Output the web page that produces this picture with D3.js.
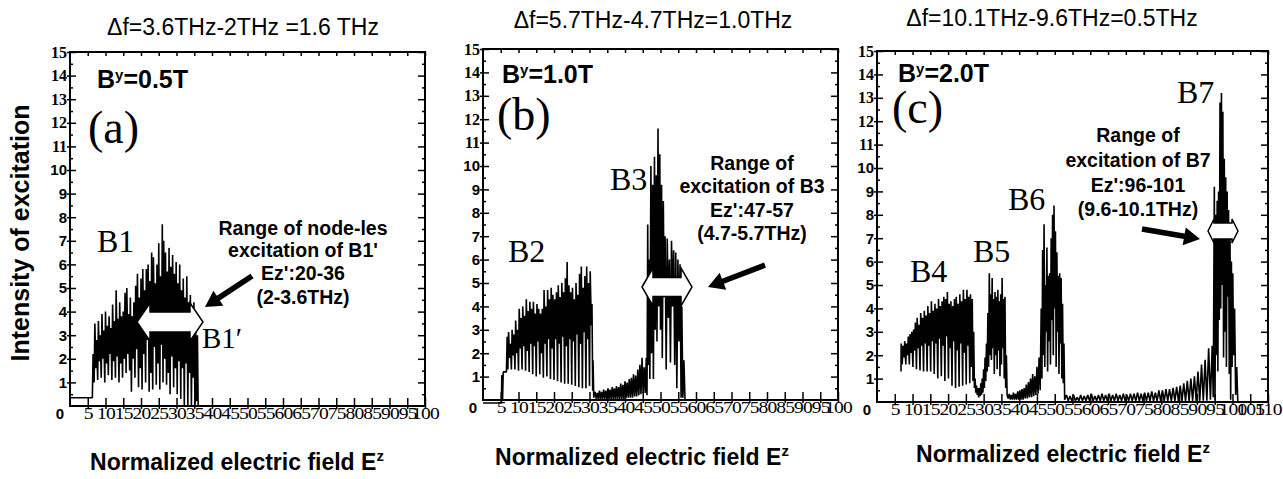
<!DOCTYPE html>
<html>
<head>
<meta charset="utf-8">
<script src="https://cdn.jsdelivr.net/npm/d3@7"></script>
<style>
body { margin: 0; background: #fff; }
svg { display: block; }
.sans { font-family: "Liberation Sans", Arial, sans-serif; }
.serif { font-family: "Liberation Serif", "Times New Roman", serif; }
</style>
</head>
<body>
<script>
// tick labels
var xTicksAB = [5, 10, 15, 20, 25, 30, 35, 40, 45, 50, 55, 60, 65, 70, 75, 80, 85, 90, 95, 100];
var xTicksC = [5, 10, 15, 20, 25, 30, 35, 40, 45, 50, 55, 60, 65, 70, 75, 80, 85, 90, 95, 100, 105, 110];
var yTicks = [1, 2, 3, 4, 5, 6, 7, 8, 9, 10, 11, 12, 13, 14, 15];

// traces: [Ez, intensity]
var traceA = [
  [0, 0.35], [6.3, 0.35], [6.5, 2.2],
  [6.8, 1.0], [7.0, 3.5], [7.3, 1.6], [7.5, 2.8], [7.8, 1.1], [8.0, 3.6], [8.3, 1.9], [8.5, 3.0],
  [8.8, 1.2], [9.0, 3.9], [9.3, 2.0], [9.5, 3.2], [9.8, 1.0], [10.0, 4.0], [10.3, 1.8], [10.5, 3.4],
  [10.8, 1.3], [11.0, 3.8], [11.3, 2.2], [11.5, 3.3], [11.8, 1.1], [12.0, 4.3], [12.3, 1.9], [12.5, 3.6],
  [12.8, 1.2], [13.0, 4.9], [13.3, 2.1], [13.5, 3.7], [13.8, 1.0], [14.0, 4.4], [14.3, 1.8], [14.5, 3.8],
  [14.8, 1.2], [15.0, 4.0], [15.3, 2.0], [15.5, 4.8], [15.8, 1.4], [16.0, 5.0], [16.3, 2.2], [16.5, 3.9],
  [16.8, 1.5], [17.0, 4.6], [17.3, 0.6], [17.5, 3.8], [17.8, 2.0], [18.0, 4.4], [18.3, 1.2], [18.5, 5.1],
  [18.8, 2.4], [19.0, 5.6], [19.3, 0.8], [19.5, 4.6], [19.8, 1.6], [20.0, 5.4], [20.3, 0.7], [20.5, 5.8],
  [20.8, 2.2], [21.0, 4.9], [21.3, 1.0], [21.5, 5.8], [21.8, 2.8], [22.0, 6.0], [22.3, 0.6], [22.5, 5.3],
  [22.8, 1.4], [23.0, 6.5], [23.3, 0.7], [23.5, 6.3], [23.8, 2.5], [24.0, 5.2], [24.3, 0.9], [24.5, 6.0],
  [24.8, 1.8], [25.0, 6.9], [25.3, 0.7], [25.5, 5.5], [25.8, 2.6], [26.0, 7.7], [26.2, 1.0], [26.4, 7.0],
  [26.7, 2.0], [26.9, 6.5], [27.2, 0.9], [27.4, 5.7], [27.7, 1.4], [27.9, 6.7], [28.2, 0.5], [28.4, 5.9],
  [28.7, 2.1], [28.9, 6.4], [29.2, 0.8], [29.4, 5.6], [29.7, 1.6], [29.9, 6.1], [30.2, 0.5], [30.4, 5.2],
  [30.7, 1.9], [30.9, 6.0], [31.2, 0.3], [31.4, 4.9], [31.7, 1.6], [31.9, 5.4], [32.2, 0], [32.4, 4.6],
  [32.7, 1.8], [32.9, 5.5], [33.2, 0], [33.4, 4.4], [33.7, 1.4], [33.9, 4.7], [34.2, 0], [34.4, 3.9],
  [34.7, 1.2], [34.9, 4.4], [35.2, 0], [35.4, 3.3], [35.7, 0.2], [35.9, 3.0], [36.1, 0], [100, 0]
];

var traceB = [
  [0, -0.13], [5.2, -0.13], [5.3, 1.07], [5.5, 0], [5.7, 1.2], [6.6, 1.2], [6.8, 2.7],
  [7.0, 1.3], [7.2, 2.9], [7.5, 1.8], [7.7, 2.4], [8.0, 1.3], [8.2, 3.0], [8.5, 1.9], [8.7, 2.8],
  [9.0, 1.3], [9.2, 3.4], [9.5, 2.0], [9.7, 3.0], [10.0, 1.25], [10.2, 3.9], [10.5, 2.2], [10.7, 3.5],
  [11.0, 1.3], [11.2, 4.0], [11.5, 2.3], [11.7, 3.6], [12.0, 1.25], [12.2, 4.3], [12.5, 2.1], [12.7, 3.8],
  [13.0, 1.2], [13.2, 4.2], [13.5, 2.4], [13.7, 3.9], [14.0, 1.1], [14.2, 4.2], [14.5, 2.3], [14.7, 3.7],
  [15.0, 1.0], [15.2, 4.1], [15.5, 2.5], [15.7, 3.9], [16.0, 1.1], [16.2, 3.7], [16.5, 2.0], [16.7, 3.9],
  [17.0, 0.95], [17.2, 4.7], [17.5, 2.4], [17.7, 4.0], [18.0, 1.0], [18.2, 4.7], [18.5, 2.6], [18.7, 4.3],
  [19.0, 0.9], [19.2, 4.8], [19.5, 2.2], [19.7, 4.5], [20.0, 0.85], [20.2, 4.3], [20.5, 2.6], [20.7, 4.6],
  [21.0, 0.8], [21.2, 4.9], [21.5, 2.4], [21.7, 4.4], [22.0, 0.75], [22.2, 5.0], [22.5, 2.7], [22.7, 4.6],
  [23.0, 0.7], [23.2, 5.2], [23.5, 2.3], [23.7, 5.9], [24.0, 0.7], [24.2, 4.9], [24.5, 2.6], [24.7, 4.6],
  [25.0, 0.65], [25.2, 4.8], [25.5, 2.5], [25.7, 4.3], [26.0, 0.6], [26.2, 5.0], [26.5, 2.8], [26.7, 4.5],
  [27.0, 0.55], [27.2, 5.4], [27.5, 2.4], [27.7, 5.7], [28.0, 0.5], [28.2, 4.8], [28.5, 2.9], [28.7, 5.3],
  [29.0, 0.5], [29.2, 5.7], [29.5, 2.6], [29.7, 5.0], [30.0, 0.6], [30.2, 5.5], [30.5, 3.2], [30.7, 4.1],
  [30.9, 0.4], [31.0, 1.7], [31.2, 0.1],
  [31.6, 0.35], [31.9, 0.05], [32.2, 0.3], [32.5, 0.05], [32.8, 0.4], [33.1, 0.05], [33.4, 0.35], [33.7, 0.05],
  [34.0, 0.45], [34.3, 0.05], [34.6, 0.4], [34.9, 0.05], [35.2, 0.5], [35.5, 0.05], [35.8, 0.45], [36.1, 0.05],
  [36.4, 0.55], [36.7, 0.05], [37.0, 0.5], [37.3, 0.05], [37.6, 0.6], [37.9, 0.05], [38.2, 0.55], [38.5, 0.05],
  [38.8, 0.7], [39.1, 0.05], [39.4, 0.65], [39.7, 0.05], [40.0, 0.8], [40.3, 0.1], [40.6, 0.75], [40.9, 0.1],
  [41.2, 0.9], [41.5, 0.1], [41.8, 0.95], [42.1, 0.1], [42.4, 1.1], [42.7, 0.15], [43.0, 1.05], [43.3, 0.15],
  [43.6, 1.3], [43.9, 0.2], [44.2, 1.5], [44.5, 0.25], [44.8, 1.8], [45.1, 0.3], [45.4, 1.4], [45.7, 0.3],
  [46.0, 1.8], [46.2, 0.2],
  [46.4, 7.5], [46.6, 1.5], [46.8, 6.0], [47.0, 0.9], [47.3, 10.0], [47.5, 2.0], [47.8, 9.2], [48.0, 0.9],
  [48.3, 10.4], [48.5, 3.0], [48.8, 9.6], [49.0, 2.5], [49.3, 11.6], [49.5, 4.0], [49.8, 10.5], [50.0, 3.0],
  [50.3, 9.2], [50.5, 1.8], [50.8, 8.5], [51.0, 4.5], [51.3, 7.0], [51.6, 1.3], [51.9, 6.9], [52.2, 3.5],
  [52.5, 6.0], [52.8, 1.6], [53.1, 6.8], [53.4, 4.0], [53.7, 6.4], [54.0, 1.5], [54.3, 6.3], [54.6, 0.5],
  [54.9, 6.0], [55.2, 2.5], [55.5, 5.8], [55.8, 0.1], [56.0, 4.0], [56.3, 0.1], [56.6, 1.7], [56.9, 0],
  [100, 0]
];

var traceC = [
  [6.75, 1.3], [6.8, 2.5],
  [7.1, 1.6], [7.3, 2.4], [7.6, 1.9], [7.8, 2.6], [8.1, 1.6], [8.3, 2.5], [8.6, 2.0], [8.8, 2.8],
  [9.1, 1.6], [9.3, 2.9], [9.6, 2.1], [9.8, 3.0], [10.1, 1.5], [10.3, 3.1], [10.6, 2.2], [10.8, 3.4],
  [11.1, 1.4], [11.3, 3.6], [11.6, 2.3], [11.8, 3.3], [12.1, 1.35], [12.3, 3.8], [12.6, 2.4], [12.8, 3.6],
  [13.1, 1.3], [13.3, 3.9], [13.6, 2.5], [13.8, 3.7], [14.1, 1.3], [14.3, 4.1], [14.6, 2.4], [14.8, 3.8],
  [15.1, 1.3], [15.3, 4.3], [15.6, 2.6], [15.8, 3.9], [16.1, 1.2], [16.3, 4.2], [16.6, 2.5], [16.8, 4.0],
  [17.1, 1.0], [17.3, 4.4], [17.6, 2.7], [17.8, 4.1], [18.1, 1.1], [18.3, 4.3], [18.6, 2.4], [18.8, 4.5],
  [19.1, 0.9], [19.3, 4.4], [19.6, 2.8], [19.8, 4.7], [20.1, 1.0], [20.3, 4.2], [20.6, 2.3], [20.8, 4.3],
  [21.1, 0.7], [21.3, 4.1], [21.6, 2.6], [21.8, 4.4], [22.1, 0.6], [22.3, 4.5], [22.6, 2.2], [22.8, 4.2],
  [23.1, 0.65], [23.3, 4.6], [23.6, 2.5], [23.8, 4.3], [24.1, 0.7], [24.3, 4.8], [24.6, 2.1], [24.8, 4.4],
  [25.1, 0.75], [25.3, 4.8], [25.6, 2.4], [25.8, 4.5], [26.1, 0.8], [26.3, 4.6], [26.6, 1.5], [26.8, 4.4],
  [27.0, 0.9], [27.2, 3.0],
  [27.4, 0.6], [27.6, 1.0], [27.8, 0.4], [28.0, 0.7], [28.2, 0.3], [28.4, 0.6], [28.6, 0.2], [28.8, 0.6],
  [29.0, 0.25], [29.2, 0.8], [29.4, 0.3], [29.6, 1.0], [29.8, 0.4], [30.0, 1.4], [30.2, 0.6], [30.4, 1.9],
  [30.6, 0.9], [30.8, 2.5], [31.0, 1.3],
  [31.2, 3.8], [31.4, 1.5], [31.6, 5.5], [31.8, 2.0], [32.0, 4.6], [32.2, 1.8], [32.4, 5.3], [32.6, 2.3],
  [32.8, 4.4], [33.0, 1.2], [33.2, 4.7], [33.4, 2.0], [33.6, 4.5], [33.8, 1.4], [34.0, 4.8], [34.2, 2.2],
  [34.4, 4.3], [34.6, 1.1], [34.8, 4.6], [35.0, 1.6], [35.2, 5.3], [35.4, 2.3], [35.6, 4.4], [35.8, 1.0],
  [36.0, 4.5], [36.2, 0.6], [36.4, 2.0], [36.6, 0.3],
  [36.9, 0.15], [37.2, 0.35], [37.5, 0.1], [37.8, 0.3], [38.1, 0.1], [38.4, 0.4], [38.7, 0.1], [39.0, 0.35],
  [39.3, 0.1], [39.6, 0.45], [39.9, 0.1], [40.2, 0.5], [40.5, 0.1], [40.8, 0.55], [41.1, 0.1], [41.4, 0.6],
  [41.7, 0.15], [42.0, 0.75], [42.3, 0.15], [42.6, 0.85], [42.9, 0.2], [43.2, 1.0], [43.5, 0.2], [43.8, 1.2],
  [44.1, 0.25], [44.4, 1.1], [44.7, 0.3], [45.0, 1.5], [45.3, 0.35], [45.6, 1.9], [45.9, 0.5],
  [46.2, 4.0], [46.4, 1.0], [46.6, 6.5], [46.8, 2.0], [47.0, 7.6], [47.2, 1.5], [47.4, 5.0], [47.6, 3.0],
  [47.8, 6.6], [48.0, 1.3], [48.2, 5.4], [48.4, 2.6], [48.6, 5.5], [48.8, 1.6], [49.0, 7.0], [49.2, 3.5],
  [49.4, 8.0], [49.6, 2.0], [49.8, 8.4], [50.0, 4.0], [50.2, 7.3], [50.4, 1.5], [50.6, 6.4], [50.8, 3.0],
  [51.0, 5.4], [51.2, 1.2], [51.4, 5.5], [51.6, 2.5], [51.8, 5.3], [52.0, 1.0], [52.2, 4.2], [52.4, 0.8],
  [52.6, 2.5], [52.8, 0.1],
  [53.3, 0.3], [53.8, 0.05], [54.3, 0.25], [54.8, 0.05], [55.3, 0.3], [55.8, 0.05], [56.3, 0.2], [56.8, 0.05],
  [57.3, 0.3], [57.8, 0.05], [58.3, 0.25], [58.8, 0.05], [59.3, 0.3], [59.8, 0.05], [60.3, 0.35], [60.8, 0.05],
  [61.3, 0.25], [61.8, 0.05], [62.3, 0.3], [62.8, 0.05], [63.3, 0.35], [63.8, 0.05], [64.3, 0.3], [64.8, 0.05],
  [65.3, 0.35], [65.8, 0.05], [66.3, 0.3], [66.8, 0.05], [67.3, 0.35], [67.8, 0.05], [68.3, 0.3], [68.8, 0.05],
  [69.3, 0.35], [69.8, 0.05], [70.3, 0.3], [70.8, 0.05], [71.3, 0.35], [71.8, 0.05], [72.3, 0.35], [72.8, 0.05],
  [73.3, 0.4], [73.8, 0.05], [74.3, 0.35], [74.8, 0.05], [75.3, 0.4], [75.8, 0.05], [76.3, 0.4], [76.8, 0.05],
  [77.3, 0.45], [77.8, 0.05], [78.3, 0.4], [78.8, 0.05], [79.3, 0.5], [79.8, 0.05], [80.3, 0.5], [80.8, 0.05],
  [81.3, 0.55], [81.8, 0.05], [82.3, 0.55], [82.8, 0.05], [83.3, 0.6], [83.8, 0.05], [84.3, 0.65], [84.8, 0.05],
  [85.3, 0.7], [85.8, 0.05], [86.3, 0.8], [86.8, 0.05], [87.3, 0.9], [87.8, 0.05], [88.3, 1.0], [88.8, 0.05],
  [89.3, 1.1], [89.8, 0.05], [90.3, 1.3], [90.8, 0.05], [91.3, 1.6], [91.8, 0.05], [92.3, 1.8], [92.8, 0.05],
  [93.3, 2.3], [93.8, 0.1], [94.3, 2.4], [94.6, 0.2],
  [94.9, 9.2], [95.1, 0.1], [95.3, 8.0], [95.5, 2.0], [95.7, 8.6], [95.9, 1.3], [96.1, 9.0], [96.3, 3.5],
  [96.5, 12.8], [96.7, 4.0], [96.9, 13.2], [97.1, 5.0], [97.3, 12.4], [97.5, 1.9], [97.7, 10.4], [97.9, 3.0],
  [98.1, 9.6], [98.3, 1.5], [98.5, 9.0], [98.7, 4.5], [98.9, 8.2], [99.1, 1.2], [99.3, 7.6], [99.5, 0.1],
  [99.7, 6.0], [99.9, 1.5], [100.1, 5.5], [100.3, 2.0], [100.6, 4.0], [100.9, 0.3], [101.2, 1.5], [101.5, 0],
  [110, 0]
];

var panels = [
  {
    trace: traceA, xMax: 100, xTicks: xTicksAB,
    left: 70, right: 425, top: 52, bottom: 406,
    title: "Δf=3.6THz-2THz =1.6 THz", titleX: 243, titleY: 35,
    field: "0.5T", fieldX: 97, fieldY: 88,
    tag: "(a)", tagX: 88, tagY: 143,
    xTitleX: 237, xTitleY: 470,
    bands: [{t: "B1", x: 97, y: 252, s: 32}, {t: "B1\u2032", x: 202, y: 348, s: 29}],
    note: ["Range of node-les", "excitation of B1'", "Ez':20-36", "(2-3.6THz)"],
    noteX: 303, noteY: [235, 257, 280, 304],
    arrow: [252, 276, 205, 307],
    hollow: {x0: 137, x1: 203, yc: 322, s: 10, H: 19, h: 13}
  },
  {
    trace: traceB, xMax: 100, xTicks: xTicksAB,
    left: 483, right: 838, top: 49, bottom: 400,
    title: "Δf=5.7THz-4.7THz=1.0THz", titleX: 653, titleY: 28,
    field: "1.0T", fieldX: 502, fieldY: 83,
    tag: "(b)", tagX: 497, tagY: 130,
    xTitleX: 642, xTitleY: 465,
    bands: [{t: "B2", x: 508, y: 262, s: 32}, {t: "B3", x: 610, y: 190, s: 32}],
    note: ["Range of", "excitation of B3", "Ez':47-57", "(4.7-5.7THz)"],
    noteX: 752, noteY: [170, 193, 217, 240],
    arrow: [765, 265, 708, 287],
    hollow: {x0: 642, x1: 692, yc: 287, s: 9.5, H: 19, h: 11}
  },
  {
    trace: traceC, xMax: 110, xTicks: xTicksC,
    left: 877, right: 1268, top: 51, bottom: 402,
    title: "Δf=10.1THz-9.6THz=0.5THz", titleX: 1052, titleY: 26,
    field: "2.0T", fieldX: 898, fieldY: 82,
    tag: "(c)", tagX: 892, tagY: 123,
    xTitleX: 1063, xTitleY: 462,
    bands: [{t: "B4", x: 910, y: 282, s: 32}, {t: "B5", x: 973, y: 262, s: 32},
            {t: "B6", x: 1008, y: 210, s: 32}, {t: "B7", x: 1177, y: 103, s: 32}],
    note: ["Range of", "excitation of B7", "Ez':96-101", "(9.6-10.1THz)"],
    noteX: 1138, noteY: [142, 167, 192, 216],
    arrow: [1142, 229, 1200, 239],
    hollow: {x0: 1208, x1: 1238, yc: 231, s: 8, H: 12, h: 6}
  }
];

var svg = d3.select("body").append("svg")
  .attr("width", 1283)
  .attr("height", 479);

svg.append("rect").attr("width", 1283).attr("height", 479).attr("fill", "#fff");

// y axis title
svg.append("text")
  .attr("class", "sans")
  .attr("transform", "translate(29,233) rotate(-90)")
  .attr("text-anchor", "middle")
  .attr("font-size", 25)
  .attr("font-weight", "bold")
  .text("Intensity of excitation");

panels.forEach(drawPanel);

function drawPanel(p) {
  var g = svg.append("g");

  var x = d3.scaleLinear().domain([0, p.xMax]).range([p.left, p.right]);
  var y = d3.scaleLinear().domain([0, 15]).range([p.bottom, p.top]);
  var yMinor = yTicks.map(function(v) { return v - 0.5; });

  // trace
  var line = d3.line()
    .x(function(d) { return x(d[0]); })
    .y(function(d) { return y(d[1]); });

  g.append("path")
    .datum(p.trace)
    .attr("d", line)
    .attr("fill", "none")
    .attr("stroke", "#000")
    .attr("stroke-width", 1.6)
    .attr("stroke-linejoin", "bevel");

  // frame
  g.append("rect")
    .attr("x", p.left).attr("y", p.top)
    .attr("width", p.right - p.left).attr("height", p.bottom - p.top)
    .attr("fill", "none").attr("stroke", "#000").attr("stroke-width", 2);

  // left axis: labels + outer ticks
  var left = g.append("g")
    .attr("transform", "translate(" + p.left + ",0)")
    .call(d3.axisLeft(y).tickValues(yTicks).tickSize(3).tickPadding(0).tickSizeOuter(0));
  left.select(".domain").remove();
  left.selectAll("line").attr("stroke-width", 1.5);
  left.selectAll("text")
    .attr("fill", "#000")
    .attr("font-weight", "bold")
    .style("font-family", function(d) { return d > 10 ? "'Liberation Serif', serif" : "'Liberation Sans', sans-serif"; })
    .style("font-size", function(d) { return d > 10 ? "16px" : "15px"; });

  // inner ticks on left/right
  [[p.left, d3.axisRight, 6, yTicks], [p.left, d3.axisRight, 3, yMinor],
   [p.right, d3.axisLeft, 7, yTicks], [p.right, d3.axisLeft, 3, yMinor]].forEach(function(a) {
    var ax = g.append("g")
      .attr("transform", "translate(" + a[0] + ",0)")
      .call(a[1](y).tickValues(a[3]).tickSize(a[2]).tickSizeOuter(0).tickFormat(""));
    ax.select(".domain").remove();
    ax.selectAll("line").attr("stroke-width", 1.5);
  });

  // top ticks
  var top = g.append("g")
    .attr("transform", "translate(0," + p.top + ")")
    .call(d3.axisBottom(x).tickValues(p.xTicks).tickSize(4).tickSizeOuter(0).tickFormat(""));
  top.select(".domain").remove();
  top.selectAll("line").attr("stroke-width", 1.5);

  // bottom inner ticks
  var bIn = g.append("g")
    .attr("transform", "translate(0," + p.bottom + ")")
    .call(d3.axisTop(x).tickValues(p.xTicks).tickSize(8).tickSizeOuter(0).tickFormat(""));
  bIn.select(".domain").remove();
  bIn.selectAll("line").attr("stroke-width", 1.5);

  // bottom labels (wide, crowded serif digits as in the figure)
  var bottom = g.append("g")
    .attr("transform", "translate(0," + p.bottom + ")")
    .call(d3.axisBottom(x).tickValues(p.xTicks).tickSize(3).tickSizeOuter(0));
  bottom.select(".domain").remove();
  bottom.selectAll("line").attr("stroke-width", 1.5);
  bottom.selectAll("text")
    .attr("fill", "#000")
    .attr("y", 1)
    .attr("transform", "scale(1.15,1)")
    .style("font-family", "'Liberation Serif', serif")
    .style("font-size", "17px")
    .style("letter-spacing", "-0.6px");

  // origin label
  g.append("text")
    .attr("class", "sans")
    .attr("x", p.left - 10).attr("y", p.bottom + 13)
    .attr("text-anchor", "middle")
    .attr("font-size", 15).attr("font-weight", "bold")
    .text("0");

  // title
  g.append("text")
    .attr("class", "sans")
    .attr("x", p.titleX).attr("y", p.titleY)
    .attr("text-anchor", "middle")
    .attr("font-size", 23)
    .text(p.title);

  // x axis title
  var xt = g.append("text")
    .attr("class", "sans")
    .attr("x", p.xTitleX).attr("y", p.xTitleY)
    .attr("text-anchor", "middle")
    .attr("font-size", 23).attr("font-weight", "bold");
  xt.append("tspan").text("Normalized electric field E");
  xt.append("tspan").attr("font-size", 15).attr("dy", -9).text("z");

  // magnetic field label
  var ft = g.append("text")
    .attr("class", "sans")
    .attr("x", p.fieldX).attr("y", p.fieldY)
    .attr("font-size", 25).attr("font-weight", "bold");
  ft.append("tspan").text("B");
  ft.append("tspan").attr("font-size", 15).attr("dy", -8).text("y");
  ft.append("tspan").attr("dy", 8).text("=" + p.field);

  // panel tag
  g.append("text")
    .attr("class", "serif")
    .attr("x", p.tagX).attr("y", p.tagY)
    .attr("font-size", 46)
    .text(p.tag);

  // band labels
  p.bands.forEach(function(b) {
    g.append("text")
      .attr("class", "serif")
      .attr("x", b.x).attr("y", b.y)
      .attr("font-size", b.s)
      .text(b.t);
  });

  // annotation text
  p.note.forEach(function(t, i) {
    g.append("text")
      .attr("class", "sans")
      .attr("x", p.noteX).attr("y", p.noteY[i])
      .attr("text-anchor", "middle")
      .attr("font-size", 19.5).attr("font-weight", "bold")
      .text(t);
  });

  thickArrow(g, p.arrow[0], p.arrow[1], p.arrow[2], p.arrow[3]);
  hollowArrow(g, p.hollow);
}

function thickArrow(g, x0, y0, x1, y1) {
  var dx = x1 - x0, dy = y1 - y0;
  var len = Math.sqrt(dx * dx + dy * dy);
  var ux = dx / len, uy = dy / len, nx = -uy, ny = ux;
  var w = 2.8, hl = 16, hw = 9;
  var bx = x1 - ux * hl, by = y1 - uy * hl;
  var pts = [
    [x0 + nx * w, y0 + ny * w], [bx + nx * w, by + ny * w], [bx + nx * hw, by + ny * hw],
    [x1, y1],
    [bx - nx * hw, by - ny * hw], [bx - nx * w, by - ny * w], [x0 - nx * w, y0 - ny * w]
  ];
  g.append("path")
    .attr("d", "M" + pts.join("L") + "Z")
    .attr("fill", "#000");
}

function hollowArrow(g, a) {
  var pts = [
    [a.x0, a.yc], [a.x0 + a.h, a.yc - a.H], [a.x0 + a.h, a.yc - a.s], [a.x1 - a.h, a.yc - a.s],
    [a.x1 - a.h, a.yc - a.H], [a.x1, a.yc], [a.x1 - a.h, a.yc + a.H], [a.x1 - a.h, a.yc + a.s],
    [a.x0 + a.h, a.yc + a.s], [a.x0 + a.h, a.yc + a.H]
  ];
  g.append("path")
    .attr("d", "M" + pts.join("L") + "Z")
    .attr("fill", "#fff")
    .attr("stroke", "#000")
    .attr("stroke-width", 1.5);
}
</script>
</body>
</html>
